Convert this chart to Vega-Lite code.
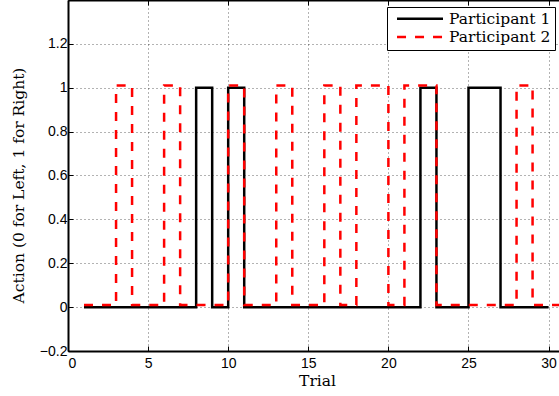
{
  "$schema": "https://vega.github.io/schema/vega-lite/v6.json",
  "width": 491,
  "height": 351,
  "autosize": {"type": "none"},
  "padding": {"left": 68, "top": 0, "right": 0, "bottom": 45},
  "background": "#ffffff",
  "data": {
    "values": [
      {"trial": 1, "action": 0, "participant": "Participant 1"},
      {"trial": 2, "action": 0, "participant": "Participant 1"},
      {"trial": 3, "action": 0, "participant": "Participant 1"},
      {"trial": 4, "action": 0, "participant": "Participant 1"},
      {"trial": 5, "action": 0, "participant": "Participant 1"},
      {"trial": 6, "action": 0, "participant": "Participant 1"},
      {"trial": 7, "action": 0, "participant": "Participant 1"},
      {"trial": 8, "action": 1, "participant": "Participant 1"},
      {"trial": 9, "action": 0, "participant": "Participant 1"},
      {"trial": 10, "action": 1, "participant": "Participant 1"},
      {"trial": 11, "action": 0, "participant": "Participant 1"},
      {"trial": 12, "action": 0, "participant": "Participant 1"},
      {"trial": 13, "action": 0, "participant": "Participant 1"},
      {"trial": 14, "action": 0, "participant": "Participant 1"},
      {"trial": 15, "action": 0, "participant": "Participant 1"},
      {"trial": 16, "action": 0, "participant": "Participant 1"},
      {"trial": 17, "action": 0, "participant": "Participant 1"},
      {"trial": 18, "action": 0, "participant": "Participant 1"},
      {"trial": 19, "action": 0, "participant": "Participant 1"},
      {"trial": 20, "action": 0, "participant": "Participant 1"},
      {"trial": 21, "action": 0, "participant": "Participant 1"},
      {"trial": 22, "action": 1, "participant": "Participant 1"},
      {"trial": 23, "action": 0, "participant": "Participant 1"},
      {"trial": 24, "action": 0, "participant": "Participant 1"},
      {"trial": 25, "action": 1, "participant": "Participant 1"},
      {"trial": 26, "action": 1, "participant": "Participant 1"},
      {"trial": 27, "action": 0, "participant": "Participant 1"},
      {"trial": 28, "action": 0, "participant": "Participant 1"},
      {"trial": 29, "action": 0, "participant": "Participant 1"},
      {"trial": 30, "action": 0, "participant": "Participant 1"},
      {"trial": 1, "action": 0.01, "participant": "Participant 2"},
      {"trial": 2, "action": 0.01, "participant": "Participant 2"},
      {"trial": 3, "action": 1.01, "participant": "Participant 2"},
      {"trial": 4, "action": 0.01, "participant": "Participant 2"},
      {"trial": 5, "action": 0.01, "participant": "Participant 2"},
      {"trial": 6, "action": 1.01, "participant": "Participant 2"},
      {"trial": 7, "action": 0.01, "participant": "Participant 2"},
      {"trial": 8, "action": 0.01, "participant": "Participant 2"},
      {"trial": 9, "action": 0.01, "participant": "Participant 2"},
      {"trial": 10, "action": 1.01, "participant": "Participant 2"},
      {"trial": 11, "action": 0.01, "participant": "Participant 2"},
      {"trial": 12, "action": 0.01, "participant": "Participant 2"},
      {"trial": 13, "action": 1.01, "participant": "Participant 2"},
      {"trial": 14, "action": 0.01, "participant": "Participant 2"},
      {"trial": 15, "action": 0.01, "participant": "Participant 2"},
      {"trial": 16, "action": 1.01, "participant": "Participant 2"},
      {"trial": 17, "action": 0.01, "participant": "Participant 2"},
      {"trial": 18, "action": 1.01, "participant": "Participant 2"},
      {"trial": 19, "action": 1.01, "participant": "Participant 2"},
      {"trial": 20, "action": 0.01, "participant": "Participant 2"},
      {"trial": 21, "action": 1.01, "participant": "Participant 2"},
      {"trial": 22, "action": 1.01, "participant": "Participant 2"},
      {"trial": 23, "action": 0.01, "participant": "Participant 2"},
      {"trial": 24, "action": 0.01, "participant": "Participant 2"},
      {"trial": 25, "action": 0.01, "participant": "Participant 2"},
      {"trial": 26, "action": 0.01, "participant": "Participant 2"},
      {"trial": 27, "action": 0.01, "participant": "Participant 2"},
      {"trial": 28, "action": 1.01, "participant": "Participant 2"},
      {"trial": 29, "action": 0.01, "participant": "Participant 2"},
      {"trial": 30, "action": 0.01, "participant": "Participant 2"},
      {"trial": 31, "action": 0.01, "participant": "Participant 2"}
    ]
  },
  "layer": [
    {
      "mark": {"type": "line", "interpolate": "step-after", "strokeWidth": 2.5, "clip": true},
      "encoding": {
        "x": {
          "field": "trial", "type": "quantitative",
          "scale": {"domain": [0, 30.65], "nice": false, "zero": false},
          "axis": {"orient": "bottom", "values": [0, 5, 10, 15, 20, 25, 30], "title": "Trial", "format": "~g", "labelPadding": 10, "titlePadding": 3, "titleX": 249}
        },
        "y": {
          "field": "action", "type": "quantitative",
          "scale": {"domain": [-0.2, 1.4], "nice": false, "zero": false},
          "axis": {"values": [-0.2, 0, 0.2, 0.4, 0.6, 0.8, 1, 1.2], "title": "Action (0 for Left, 1 for Right)", "format": "~g", "labelPadding": 6, "titlePadding": 13, "titleY": 185}
        },
        "color": {
          "field": "participant", "type": "nominal",
          "scale": {"domain": ["Participant 1", "Participant 2"], "range": ["#000000", "#ff0000"]},
          "legend": {"orient": "none", "legendX": 319, "legendY": 7, "title": null}
        },
        "strokeDash": {
          "field": "participant", "type": "nominal",
          "scale": {"domain": ["Participant 1", "Participant 2"], "range": [[1, 0], [9, 9]]},
          "legend": {"orient": "none", "legendX": 319, "legendY": 7, "title": null}
        }
      }
    },
    {
      "mark": {"type": "line", "opacity": 0},
      "encoding": {
        "x": {
          "field": "trial", "type": "quantitative",
          "scale": {"domain": [0, 30.65], "nice": false, "zero": false},
          "axis": {"orient": "top", "values": [0, 5, 10, 15, 20, 25, 30], "labels": false, "grid": false, "title": null}
        },
        "y": {"field": "action", "type": "quantitative"}
      }
    }
  ],
  "resolve": {"axis": {"x": "independent"}},
  "config": {
    "view": {"stroke": null},
    "axis": {
      "domainColor": "#000000", "domainWidth": 2,
      "tickColor": "#000000", "tickSize": -5, "tickWidth": 1,
      "labelFont": "Liberation Sans", "labelFontSize": 14, "labelColor": "#000000",
      "titleFont": "DejaVu Serif", "titleFontSize": 15.5, "titleFontWeight": "normal", "titleColor": "#000000",
      "grid": true, "gridColor": "#000000", "gridOpacity": 0.6, "gridDash": [1, 3], "gridWidth": 1
    },
    "legend": {
      "strokeColor": "#000000", "strokeWidth": 1, "fillColor": "#ffffff", "padding": 4, "cornerRadius": 0,
      "symbolType": "M-0.3,0H7.7", "symbolSize": 132, "symbolStrokeWidth": 2.5,
      "labelFont": "DejaVu Serif", "labelFontSize": 15.5, "labelColor": "#000000", "labelOffset": 42.5, "rowPadding": 1.2
    }
  }
}
